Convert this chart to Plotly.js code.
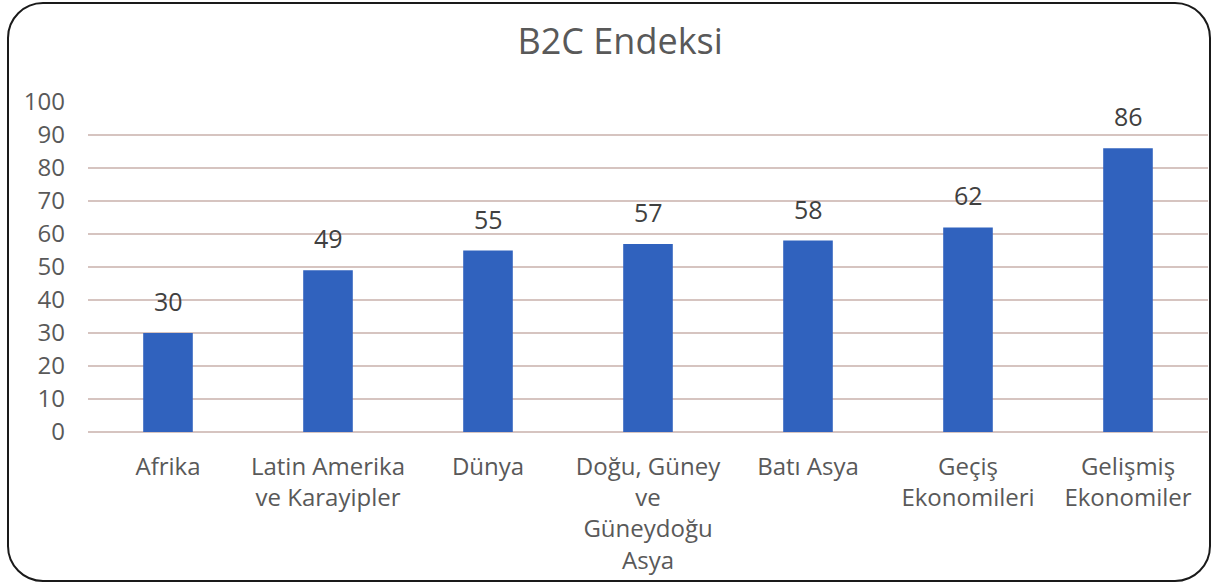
<!DOCTYPE html>
<html>
<head>
<meta charset="utf-8">
<script src="https://cdn.plot.ly/plotly-3.0.1.min.js"></script>
<style>
  html, body { margin: 0; padding: 0; background: #fff; }
  #wrap { position: relative; width: 1216px; height: 585px; }
  #chart { width: 1216px; height: 585px; }
  #frame { position: absolute; left: 7px; top: 2px; width: 1200px; height: 576px;
           border: 2.5px solid #1a1a1a; border-radius: 36px; pointer-events: none; }
</style>
</head>
<body>
<div id="wrap">
  <div id="chart"></div>
  <div id="frame"></div>
</div>
<script>
const categories = [
  "Afrika",
  "Latin Amerika<br>ve Karayipler",
  "Dünya",
  "Doğu, Güney<br>ve<br>Güneydoğu<br>Asya",
  "Batı Asya",
  "Geçiş<br>Ekonomileri",
  "Gelişmiş<br>Ekonomiler"
];
const values = [30, 49, 55, 57, 58, 62, 86];
const yTicks = [0, 10, 20, 30, 40, 50, 60, 70, 80, 90, 100];

const font = "Open Sans, Noto Sans, sans-serif";

const trace = {
  type: "bar",
  x: categories,
  y: values,
  marker: { color: "#3062BE" },
  hoverinfo: "none"
};

const annotations = categories.map((c, i) => ({
  x: c, y: values[i], xref: "x", yref: "y",
  text: String(values[i]),
  showarrow: false,
  xanchor: "center", yanchor: "middle",
  yshift: 32,
  font: { family: font, size: 25, color: "#404040" }
}));

const layout = {
  width: 1216,
  height: 585,
  margin: { l: 88, r: 8, t: 102, b: 153 },
  paper_bgcolor: "#ffffff",
  plot_bgcolor: "#ffffff",
  showlegend: false,
  bargap: 0.69,
  annotations: annotations,
  title: {
    text: "B2C Endeksi",
    font: { family: font, size: 36, color: "#595959" },
    x: 0.51, xanchor: "center",
    y: 0.93, yanchor: "middle"
  },
  xaxis: {
    type: "category",
    showgrid: false,
    showline: false,
    zeroline: false,
    ticks: "",
    tickfont: { family: font, size: 24, color: "#595959" },
    ticklabelstandoff: 18
  },
  yaxis: {
    range: [0, 100],
    tickvals: yTicks,
    ticktext: yTicks.map(String),
    showgrid: true,
    gridcolor: "#d6c4c0",
    gridwidth: 1.5,
    zeroline: true,
    zerolinecolor: "#d6c4c0",
    zerolinewidth: 1.5,
    showline: false,
    ticks: "",
    tickfont: { family: font, size: 24, color: "#595959" },
    ticklabelstandoff: 22
  }
};

Plotly.newPlot("chart", [trace], layout, { displayModeBar: false, staticPlot: true });
</script>
</body>
</html>
